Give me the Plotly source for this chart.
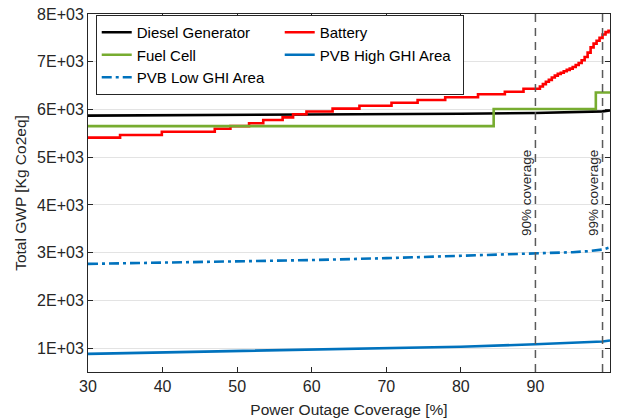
import plotly.graph_objects as go

# ---------------- data ----------------
diesel_x = [30, 40, 50, 60, 70, 80, 90, 95, 99, 100]
diesel_y = [5870, 5875, 5882, 5890, 5898, 5910, 5925, 5940, 5960, 5980]

battery_x = [30, 34.3, 39.9, 47.0, 49.1, 51.6, 53.5, 56.1, 57.5, 59.3, 62.8, 66.4,
             70.7, 74.2, 77.9, 82.3, 85.9, 88.4, 90.6, 91.0, 91.4, 91.8, 92.2, 92.6,
             93.0, 93.4, 93.8, 94.2, 94.6, 95.0, 95.4, 95.8, 96.2, 96.6, 97.0, 97.4,
             97.8, 98.2, 98.6, 99.0, 99.4, 99.8, 100]
battery_y = [5410, 5465, 5534, 5595, 5650, 5710, 5780, 5835, 5900, 5958, 6018, 6078,
             6142, 6198, 6255, 6318, 6372, 6435, 6480, 6530, 6580, 6620, 6670, 6710,
             6745, 6770, 6800, 6830, 6855, 6890, 6930, 6975, 7030, 7100, 7190, 7300,
             7380, 7440, 7500, 7570, 7620, 7650, 7650]

fuel_x = [30, 84.4, 98.1, 100]
fuel_y = [5650, 6010, 6355, 6355]

pvb_high_x = [30, 40, 50, 60, 70, 80, 90, 95, 99, 100]
pvb_high_y = [880, 910, 940, 965, 995, 1030, 1080, 1110, 1140, 1160]

pvb_low_x = [30, 40, 50, 60, 70, 80, 85, 90, 95, 97, 99, 100]
pvb_low_y = [2765, 2790, 2815, 2845, 2885, 2930, 2955, 2980, 3010, 3030, 3065, 3110]

coverage_marks = [90, 99]
coverage_labels = ["90% coverage", "99% coverage"]

y_tickvals = [1000, 2000, 3000, 4000, 5000, 6000, 7000, 8000]
y_ticktext = ["1E+03", "2E+03", "3E+03", "4E+03", "5E+03", "6E+03", "7E+03", "8E+03"]
x_tickvals = [30, 40, 50, 60, 70, 80, 90, 100]

# ---------------- styles ----------------
FONT = "Arial, Liberation Sans, Helvetica, sans-serif"
AX = "#262626"
LW = 2.6

fig = go.Figure()
fig.add_trace(go.Scatter(x=diesel_x, y=diesel_y, mode="lines", name="Diesel Generator",
                         line=dict(color="#000000", width=LW)))
fig.add_trace(go.Scatter(x=battery_x, y=battery_y, mode="lines", name="Battery",
                         line=dict(color="#FF0000", width=LW, shape="hv")))
fig.add_trace(go.Scatter(x=fuel_x, y=fuel_y, mode="lines", name="Fuel Cell",
                         line=dict(color="#77AC30", width=LW, shape="hv")))
fig.add_trace(go.Scatter(x=pvb_high_x, y=pvb_high_y, mode="lines", name="PVB High GHI Area",
                         line=dict(color="#0072BD", width=LW)))
fig.add_trace(go.Scatter(x=pvb_low_x, y=pvb_low_y, mode="lines", name="PVB Low GHI Area",
                         line=dict(color="#0072BD", width=LW, dash="10px,4px,3px,4px")))

for xv, lab in zip(coverage_marks, coverage_labels):
    fig.add_shape(type="line", xref="x", yref="paper", x0=xv, x1=xv, y0=0, y1=1,
                  line=dict(color="#5a5a5a", width=1.5, dash="8px,6px"), layer="above")
    fig.add_annotation(x=xv, y=4250, xref="x", yref="y", text=lab, showarrow=False,
                       textangle=-90, xanchor="right", yanchor="middle", xshift=0,
                       font=dict(family=FONT, size=13.5, color=AX))

fig.update_layout(
    width=623, height=419,
    margin=dict(l=88, r=13, t=14, b=47, autoexpand=False),
    paper_bgcolor="white", plot_bgcolor="white",
    font=dict(family=FONT, color=AX, size=15.5),
    showlegend=True,
    legend=dict(orientation="h", x=0.0148, y=0.997, xanchor="left", yanchor="top",
                bgcolor="white", bordercolor=AX, borderwidth=1,
                entrywidth=138, entrywidthmode="pixels",
                font=dict(family=FONT, size=15, color="#000000"),
                tracegroupgap=0, itemwidth=30),
    xaxis=dict(range=[30, 100], tickvals=x_tickvals, showgrid=False, zeroline=False,
               showline=True, linecolor=AX, linewidth=1, mirror="ticks",
               ticks="inside", ticklen=5, tickcolor=AX, automargin=False,
               tickfont=dict(family=FONT, size=16, color=AX),
               title=dict(text="Power Outage Coverage [%]", standoff=9,
                          font=dict(family=FONT, size=15.5, color=AX))),
    yaxis=dict(range=[500, 8000], tickvals=y_tickvals, ticktext=y_ticktext,
               showgrid=True, gridcolor="#e3e3e3", gridwidth=1, zeroline=False,
               showline=True, linecolor=AX, linewidth=1, mirror="ticks",
               ticks="inside", ticklen=5, tickcolor=AX, automargin=False,
               tickfont=dict(family=FONT, size=16, color=AX),
               title=dict(text="Total GWP [Kg Co2eq]", standoff=6,
                          font=dict(family=FONT, size=15.5, color=AX))),
)

fig.write_html("out.html")
